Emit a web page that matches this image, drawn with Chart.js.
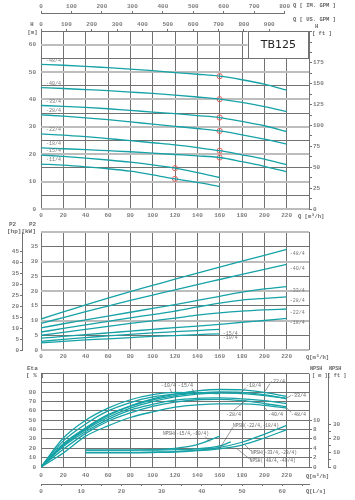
<!DOCTYPE html>
<html><head><meta charset="utf-8">
<script src="https://cdn.jsdelivr.net/npm/chart.js@4.4.1/dist/chart.umd.min.js"></script>
<style>
html,body{margin:0;padding:0;background:#fff;width:355px;height:500px;overflow:hidden}
canvas{position:absolute;left:0}
</style></head><body>
<canvas id="c1" width="355" height="222" style="top:0px"></canvas>
<canvas id="c2" width="355" height="143" style="top:222px"></canvas>
<canvas id="c3" width="355" height="135" style="top:365px"></canvas>
<script>
// ---------------- DATA ----------------
const Q_FULL  = [0,20,40,60,80,100,120,140,160,180,200,220];
const Q_TO160 = [0,20,40,60,80,100,120,140,160];
const Q_TO140 = [0,20,40,60,80,100,120,140];
const Q_TICKS = [0,20,40,60,80,100,120,140,160,180,200,220];

// Head H [m]
const H_MODELS = ['-48/4','-40/4','-33/4','-28/4','-22/4','-18/4','-15/4','-11/4'];
const H_48 = [52.8,52.5,52.1,51.6,51.1,50.5,49.8,49.2,48.5,47.2,45.6,43.4];
const H_40 = [44.3,44.0,43.6,43.2,42.7,42.2,41.6,40.9,40.1,38.9,37.4,35.6];
const H_33 = [37.8,37.5,37.1,36.6,36.0,35.4,34.8,34.1,33.4,32.0,30.4,28.3];
const H_28 = [34.4,33.9,33.3,32.6,31.8,31.0,30.2,29.4,28.5,27.1,25.5,23.7];
const H_22 = [27.4,27.0,26.4,25.7,25.0,24.2,23.4,22.4,21.3,19.8,18.2,16.2];
const H_18 = [22.3,22.0,21.7,21.3,20.9,20.4,19.9,19.4,18.8,17.3,15.6,13.6];
const H_15 = [19.7,19.2,18.6,17.9,17.1,16.1,14.9,13.3,11.5];
const H_11 = [16.4,16.0,15.4,14.7,13.8,12.5,11.0,9.7,8.2];
const RATED_Q = [160,160,160,160,160,160,120,120];
const H_TICKS = [0,10,20,30,40,50,60];
const FT_TICKS = [0,25,50,75,100,125,150,175];
const USGPM_TICKS = [0,100,200,300,400,500,600,700,800,900];
const IMGPM_TICKS = [0,100,200,300,400,500,600,700,800];

// Power P2 [kW]
const P_MODELS = ['-48/4','-40/4','-33/4','-28/4','-22/4','-18/4','-15/4','-10/4'];
const P_48 = [10.5,12.9,15.3,17.6,19.8,21.9,24.0,26.1,28.1,30.1,32.1,34.1];
const P_40 = [9.0,11.0,13.0,14.9,16.8,18.6,20.4,22.2,23.9,25.6,27.3,29.0];
const P_33 = [7.5,8.9,10.2,11.5,12.8,14.1,15.4,16.8,18.2,19.6,20.7,21.5];
const P_28 = [6.1,7.3,8.5,9.7,10.9,12.0,13.2,14.6,15.9,16.9,17.5,18.0];
const P_22 = [5.0,6.0,7.0,8.0,9.0,9.9,10.8,11.8,12.6,13.2,13.6,13.9];
const P_18 = [4.0,4.6,5.2,5.8,6.4,7.0,7.6,8.1,8.7,9.4,10.0,10.7];
const P_15 = [2.9,3.6,4.2,4.8,5.3,5.8,6.2,6.6,7.0];
const P_10 = [2.4,2.9,3.4,3.8,4.2,4.6,4.9,5.2,5.5];
const KW_TICKS = [0,5,10,15,20,25,30,35];
const HP_TICKS = [0,5,10,15,20,25,30,35,40,45];

// Efficiency [%]
const ETA_MODELS = ['-10/4','-15/4','-18/4','-22/4','-28/4','-33/4','-40/4','-48/4'];
const ETA_10 = [0,31,50,63,72,77.5,80,79.5];
const ETA_15 = [0,28,46,60,69,75,78,79.5,78.5];
const ETA_18 = [0,25,42,56,65,72,76.5,79,80.5,80,77.5,73];
const ETA_22 = [0,24,41,55,65.5,73,78,81.5,83,82.5,80,75.5];
const ETA_28 = [0,22,38,51,61,67,71.5,73.5,74,73,71,68];
const ETA_33 = [0,23,40,53,63,70,75,78,79,78.5,76.5,73.5];
const ETA_40 = [0,19,36,49,58,65,69.5,72,72.5,71,68,64.5];
const ETA_48 = [0,15,33,44,53,59,64,66.5,67.5,67.5,66,63];
const ETA_TICKS = [0,10,20,30,40,50,60,70,80];

// NPSH [m]
const NPSH_MODELS = ['NPSH(-15/4,-10/4)','NPSH(-22/4,-18/4)','NPSH(-33/4,-28/4)','NPSH(-48/4,-40/4)'];
const Q_NPSH_A = [40,60,80,100,120,140,160];
const NPSH_A   = [3.6,3.6,3.6,3.7,4.0,4.8,6.6];
const Q_NPSH_B = [40,60,80,100,120,140,160,170];
const NPSH_B   = [3.6,3.6,3.6,3.6,3.7,3.9,4.5,5.4];
const Q_NPSH_C = [40,60,80,100,120,140,160,180,200,220];
const NPSH_C   = [3.15,3.15,3.15,3.2,3.3,3.6,4.2,5.3,7.0,8.9];
const NPSH_D   = [3.05,3.05,3.05,3.1,3.2,3.5,3.9,4.7,6.2,8.0];
const NPSH_M_TICKS = [0,2,4,6,8,10];
const NPSH_FT_TICKS = [0,10,20,30];
const LS_TICKS = [0,10,20,30,40,50,60];

// unit conversions
const USGPM = 4.40287, IMGPM = 3.66615, FT = 3.28084, HP = 1/0.7457, LS = 1/3.6;
const Q_MAX = 240;

// ---------------- STYLE ----------------
const TEAL = '#16a2a6';
const RED = '#e4605f';
const GRID_D = '#727272';
const GRID_L = '#bdbdbd';
const TXT = '#7d7d7d';
const MONO = '"Liberation Mono", "DejaVu Sans Mono", monospace';
Chart.defaults.font.family = MONO;
Chart.defaults.font.size = 6;
Chart.defaults.font.weight = 'bold';
Chart.defaults.color = TXT;

const pts = (qs, vs) => vs.map((v,i) => ({x: qs[i], y: v}));
const fixW = w => s => { s.width = w; };
const fixH = h => s => { s.height = h; };
const lbl = list => v => list.includes(+v.toFixed(3)) ? v : '';
const lineDs = (label, data, yAxisID) => ({label, data, yAxisID, xAxisID:'x', borderColor: TEAL, backgroundColor: TEAL,
  borderWidth: 1.3, pointRadius: 0, fill: false, cubicInterpolationMode: 'monotone'});
const common = {responsive:false, animation:false, devicePixelRatio:1,
  plugins:{legend:{display:false}, tooltip:{enabled:false}}, events:[]};
const xAxis = (h, pad) => ({type:'linear', position:'bottom', weight:0, min:0, max:Q_MAX, afterFit: fixH(h),
  ticks:{stepSize:20, autoSkip:false, includeBounds:false, maxRotation:0, padding:pad, callback: lbl(Q_TICKS)},
  grid:{color: GRID_D, lineWidth:1, drawTicks:false}, border:{display:false}});
const gridAlt = (mod) => ({color: c => (c.tick && Math.abs(c.tick.value % mod) < 1e-6) ? GRID_L : GRID_D,
  lineWidth: c => (c.tick && Math.abs(c.tick.value % mod) < 1e-6) ? 2 : 1, drawTicks:false});

function txt(ctx, s, x, y, size, align, color, weight){
  ctx.font = (weight || 'normal') + ' ' + size + 'px ' + MONO;
  ctx.fillStyle = color || '#666';
  ctx.textAlign = align || 'left';
  ctx.textBaseline = 'middle';
  ctx.fillText(s, x, y);
}

// ---------------- CHART 1 : H ----------------
const H_SERIES = [H_48,H_40,H_33,H_28,H_22,H_18,H_15,H_11];
const h1 = H_SERIES.map((arr,i) => lineDs(H_MODELS[i], pts(arr.length === 12 ? Q_FULL : Q_TO160, arr), 'y'));
const rated = H_SERIES.map((arr,i) => ({x: RATED_Q[i], y: arr[Q_FULL.indexOf(RATED_Q[i])]}));
h1.push({label:'rated', data: rated, xAxisID:'x', yAxisID:'y', showLine:false, pointRadius:2.6, pointBorderWidth:1,
  pointBorderColor: RED, pointBackgroundColor:'rgba(0,0,0,0)', borderColor: RED});

const deco1 = {id:'deco1', afterDraw(chart){
  const {ctx, chartArea:a, scales:{x, y, im}} = chart;
  ctx.save();
  const bx = x.getPixelForValue(185), bh = 27;
  ctx.fillStyle = '#fff'; ctx.fillRect(bx, a.top, a.right - bx, bh);
  ctx.strokeStyle = GRID_D; ctx.lineWidth = 1;
  ctx.strokeRect(Math.round(bx)+0.5, a.top+0.5, a.right - Math.round(bx) - 1, bh);
  ctx.font = '11px "DejaVu Sans"'; ctx.fillStyle = '#222'; ctx.textAlign = 'center'; ctx.textBaseline='middle';
  ctx.fillText('TB125', (bx + a.right)/2, a.top + bh/2 + 0.5);
  H_SERIES.forEach((arr,i) => txt(ctx, H_MODELS[i], x.getPixelForValue(0)+5, y.getPixelForValue(arr[0]) - 4, 5, 'left', '#777'));
  ctx.strokeStyle = GRID_D; ctx.lineWidth = 1; ctx.beginPath();
  ctx.moveTo(im.getPixelForValue(0), Math.round(im.bottom)-0.5); ctx.lineTo(im.getPixelForValue(800), Math.round(im.bottom)-0.5); ctx.stroke();
  txt(ctx, 'Q [ IM. GPM ]', 293, 6, 5.5, 'left', '#666', 'bold');
  txt(ctx, 'Q [ US. GPM ]', 293, 20, 5.5, 'left', '#666', 'bold');
  txt(ctx, 'H', 315, 26.5, 5.5, 'left', '#666', 'bold');
  txt(ctx, '[ ft ]', 312, 33.5, 5.5, 'left', '#666', 'bold');
  txt(ctx, 'H', 32, 25, 5.5, 'center', '#666', 'bold');
  txt(ctx, '[m]', 32.5, 33, 5.5, 'center', '#666', 'bold');
  txt(ctx, 'Q [m³/h]', 298, a.bottom + 8, 5.5, 'left', '#666', 'bold');
  ctx.restore();
}};

new Chart(document.getElementById('c1'), {type:'line', data:{datasets:h1}, plugins:[deco1],
  options:{...common, layout:{padding:0},
    scales:{
      x: xAxis(13, 3),
      us:{type:'linear', position:'top', weight:0, min:0, max:Q_MAX*USGPM, afterFit: fixH(17),
        ticks:{stepSize:100, autoSkip:false, includeBounds:false, maxRotation:0, padding:1, callback: v => USGPM_TICKS.includes(v) ? v : null},
        grid:{drawOnChartArea:false, tickLength:2, color:GRID_D}, border:{display:false}},
      im:{type:'linear', position:'top', weight:1, min:0, max:Q_MAX*IMGPM, afterFit: fixH(14),
        ticks:{stepSize:100, autoSkip:false, includeBounds:false, maxRotation:0, padding:1, callback: v => IMGPM_TICKS.includes(v) ? v : null},
        grid:{drawOnChartArea:false, tickLength:3, color:GRID_D}, border:{display:false}},
      y:{type:'linear', position:'left', weight:0, min:0, max:65, afterFit: fixW(41),
        ticks:{stepSize:5, autoSkip:false, includeBounds:false, padding:5, callback: lbl(H_TICKS)},
        grid: gridAlt(10), border:{display:false}},
      ft:{type:'linear', position:'right', weight:0, min:0, max:65*FT, afterFit: fixW(46),
        ticks:{stepSize:12.5, autoSkip:false, includeBounds:false, padding:1, callback: lbl(FT_TICKS)},
        grid:{drawOnChartArea:false, tickLength:3, color:GRID_D}, border:{display:true, color:GRID_D}}
    }}});

// ---------------- CHART 2 : P2 ----------------
const P_SERIES = [P_48,P_40,P_33,P_28,P_22,P_18,P_15,P_10];
const p2 = P_SERIES.map((arr,i) => lineDs(P_MODELS[i], pts(arr.length === 12 ? Q_FULL : Q_TO160, arr), 'y'));
const deco2 = {id:'deco2', afterDraw(chart){
  const {ctx, chartArea:a, scales:{x, y}} = chart;
  ctx.save();
  P_SERIES.forEach((arr,i) => {
    const q = arr.length === 12 ? 220 : 160;
    txt(ctx, P_MODELS[i], x.getPixelForValue(q) + 3, y.getPixelForValue(arr[arr.length-1]) + 4, 5, 'left', '#777');
  });
  txt(ctx, 'P2', 9, 2.5, 6, 'left', '#666', 'bold');
  txt(ctx, 'P2', 29, 2.5, 6, 'left', '#666', 'bold');
  txt(ctx, '[hp][kW]', 7, 9.5, 6, 'left', '#666', 'bold');
  txt(ctx, 'Q[m³/h]', 306, a.bottom + 8, 5.5, 'left', '#666', 'bold');
  ctx.restore();
}};
new Chart(document.getElementById('c2'), {type:'line', data:{datasets:p2}, plugins:[deco2],
  options:{...common, layout:{padding:{top:10, right:46, left:0, bottom:0}},
    scales:{
      x: xAxis(15, 3),
      y:{type:'linear', position:'left', weight:0, min:0, max:40, afterFit: fixW(19),
        ticks:{stepSize:5, autoSkip:false, includeBounds:false, padding:3, callback: lbl(KW_TICKS)},
        grid: gridAlt(10), border:{display:false}},
      hp:{type:'linear', position:'left', weight:1, min:0, max:40*HP, afterFit: fixW(22),
        ticks:{stepSize:5, autoSkip:false, includeBounds:false, padding:1, callback: v => HP_TICKS.includes(v) ? v : null},
        grid:{drawOnChartArea:false, tickLength:2, color:GRID_D}, border:{display:true, color:GRID_D}}
    }}});

// ---------------- CHART 3 : Eta / NPSH ----------------
const ETA_SERIES = [ETA_10,ETA_15,ETA_18,ETA_22,ETA_28,ETA_33,ETA_40,ETA_48];
const eds = ETA_SERIES.map((arr,i) => lineDs(ETA_MODELS[i], pts(arr.length === 12 ? Q_FULL : (arr.length === 9 ? Q_TO160 : Q_TO140), arr), 'y'));
eds.push(lineDs(NPSH_MODELS[0], pts(Q_NPSH_A, NPSH_A), 'npsh'));
eds.push(lineDs(NPSH_MODELS[1], pts(Q_NPSH_B, NPSH_B), 'npsh'));
eds.push(lineDs(NPSH_MODELS[2], pts(Q_NPSH_C, NPSH_C), 'npsh'));
eds.push(lineDs(NPSH_MODELS[3], pts(Q_NPSH_C, NPSH_D), 'npsh'));

// label placement (text Q/eta, leader from Q/eta, leader to Q/eta) — annotation layout only
const ETA_LABEL_POS = [
  [107.5,87.2, 115.5,84.0, 117.3,78.7],
  [122.7,87.6, 135.2,84.0, 137.9,77.7],
  [183.6,87.6, 183.6,85.1, 177.9,78.2],
  [205.0,91.5, 205.0,89.4, 200.6,80.9],
  [165.7,56.4, 172.0,60.1, 183.6,71.6],
  [223.9,76.6, 223.9,76.6, 219.4,73.4],
  [203.3,56.1, 203.3,59.6, 200.3,63.5],
  [223.9,55.6, 224.1,58.5, 219.7,63.5]
];
const NPSH_LABEL_POS = [
  [109.2,35.4, 146.9,32.7, 151.3,27.3],
  [171.9,44.4, 171.9,42.6, 160.3,20.2],
  [188.0,14.9, 188.0,17.0, 182.7,23.7],
  [186.9,6.1, 186.9,8.5, 174.9,20.2]
];
const deco3 = {id:'deco3', afterDraw(chart){
  const {ctx, chartArea:a, scales:{x, y}} = chart;
  ctx.save();
  const draw = (text, p, size) => {
    ctx.strokeStyle = '#555'; ctx.lineWidth = 0.6; ctx.beginPath();
    ctx.moveTo(x.getPixelForValue(p[2]), y.getPixelForValue(p[3]));
    ctx.lineTo(x.getPixelForValue(p[4]), y.getPixelForValue(p[5])); ctx.stroke();
    txt(ctx, text, x.getPixelForValue(p[0]), y.getPixelForValue(p[1]), size, 'left', '#666');
  };
  ETA_MODELS.forEach((m,i) => draw(m, ETA_LABEL_POS[i], 5));
  NPSH_MODELS.forEach((m,i) => draw(m, NPSH_LABEL_POS[i], 4.5));
  txt(ctx, 'Eta', 27, 3.5, 6, 'left', '#666', 'bold');
  txt(ctx, '[ % ]', 26, 10.5, 6, 'left', '#666', 'bold');
  txt(ctx, 'NPSH', 310, 3.5, 5.2, 'left', '#666', 'bold');
  txt(ctx, 'NPSH', 329, 3.5, 5.2, 'left', '#666', 'bold');
  txt(ctx, '[ m ][ ft ]', 312, 10.5, 5.2, 'left', '#666', 'bold');
  txt(ctx, 'Q[m³/h]', 306, a.bottom + 9.5, 5.5, 'left', '#666', 'bold');
  txt(ctx, 'Q[L/s]', 306, a.bottom + 24.5, 5.5, 'left', '#666', 'bold');
  ctx.restore();
}};
new Chart(document.getElementById('c3'), {type:'line', data:{datasets:eds}, plugins:[deco3],
  options:{...common, layout:{padding:{top:8, right:0, left:0, bottom:0}},
    scales:{
      x: xAxis(17, 5),
      ls:{type:'linear', position:'bottom', weight:1, min:0, max:Q_MAX*LS, afterFit: fixH(16),
        ticks:{stepSize:5, autoSkip:false, includeBounds:false, maxRotation:0, padding:2, callback: lbl(LS_TICKS)},
        grid:{drawOnChartArea:false, tickLength:2, color:GRID_D}, border:{display:true, color:GRID_D}},
      y:{type:'linear', position:'left', weight:0, min:0, max:100, afterFit: fixW(41),
        ticks:{stepSize:10, autoSkip:false, includeBounds:false, padding:5, callback: lbl(ETA_TICKS)},
        grid:{color:GRID_D, lineWidth:1, drawTicks:false}, border:{display:false}},
      npsh:{type:'linear', position:'right', weight:0, min:0, max:20, afterFit: fixW(19),
        ticks:{stepSize:2, autoSkip:false, includeBounds:false, padding:1, callback: v => NPSH_M_TICKS.includes(v) ? v : null},
        grid:{drawOnChartArea:false, tickLength:3, color:GRID_D}, border:{display:false}},
      nft:{type:'linear', position:'right', weight:1, min:0, max:20*FT, afterFit: fixW(27),
        ticks:{stepSize:5, autoSkip:false, includeBounds:false, padding:2, callback: v => v <= 30 ? (NPSH_FT_TICKS.includes(v) ? v : '') : null},
        grid:{drawOnChartArea:false, tickLength:3, color:GRID_D}, border:{display:true, color:GRID_D}}
    }}});
</script>
</body></html>
